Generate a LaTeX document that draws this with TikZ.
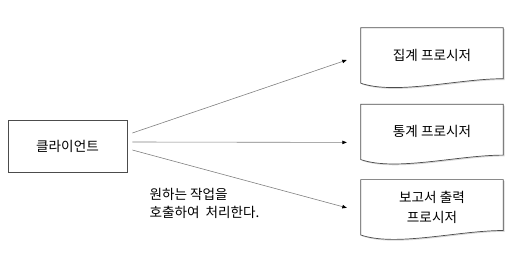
\documentclass[tikz,border=0pt]{standalone}
\usepackage{fontspec}
\setmainfont{Noto Sans CJK KR}
\usetikzlibrary{arrows.meta, positioning, shadows, backgrounds}

\begin{document}
\begin{tikzpicture}[
    x=1pt, y=-1pt,
    node distance=21pt,
    every node/.style={font=\fontsize{13.6}{19.5}\selectfont},
    client/.style={draw=black!70, fill=white, line width=0.7pt, minimum width=119pt, minimum height=52pt,
        drop shadow={shadow xshift=1.3pt, shadow yshift=-1.3pt, fill=black!30}},
    doc/.style={minimum width=142pt, minimum height=55pt, align=center},
    docline/.style={draw=black!70, fill=white, line width=0.7pt,
        drop shadow={shadow xshift=1.3pt, shadow yshift=-1.3pt, fill=black!30}},
    note/.style={align=left, font=\fontsize{13.6}{17.5}\selectfont},
    ar/.style={draw=black!50, line width=0.6pt, -{Triangle[black, length=4.5pt, width=3.5pt]}}
]
\useasboundingbox (0,0) rectangle (528,258);
% Left: client
\node[client] (cli) at (67.5,146) {클라이언트};
% Right column: procedures
\node[doc] (agg) at (432,55.5) {집계 프로시저};
\node[doc, below=of agg] (stat) {통계 프로시저};
\node[doc, below=20pt of stat] (rep) {보고서 출력\\프로시저};
% document outlines behind the texts
\begin{scope}[on background layer]
\foreach \n in {agg, stat, rep}
    \draw[docline] (\n.north west) -- (\n.north east) -- ([yshift=4.5pt]\n.south east)
        .. controls +(-45,0) and +(35,12) .. (\n.south west) -- cycle;
\end{scope}
% note under the arrows
\node[note, anchor=north west] (call) at (146,185) {원하는 작업을\\호출하여\ \ 처리한다.};
% arrows
\draw[ar] ([xshift=5pt, yshift=13pt]cli.east) -- ([xshift=-14pt, yshift=-4.5pt]agg.west);
\draw[ar] ([xshift=5pt, yshift=4pt]cli.east) -- ([xshift=-14pt, yshift=-10.5pt]stat.west);
\draw[ar] ([xshift=5pt, yshift=-4pt]cli.east) -- ([xshift=-14pt, yshift=-0.5pt]rep.west);
\end{tikzpicture}
\end{document}
